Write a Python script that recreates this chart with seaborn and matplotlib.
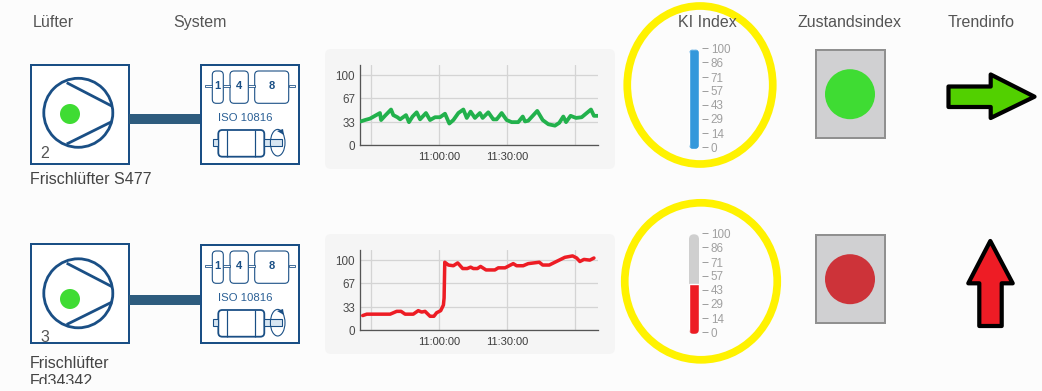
from matplotlib import pyplot as plt
from matplotlib.patches import Circle, Ellipse, FancyBboxPatch, Polygon, Rectangle
import seaborn as sns

W, H = 1042, 391
PX = 0.72  # one image pixel in points at dpi 100

headers = ['Lüfter', 'System', 'KI Index', 'Zustandsindex', 'Trendinfo']
y_ticks = [0, 33, 67, 100]
x_ticks = [-30, 0, 30, 60]  # minutes relative to 11:00
x_labels = ['', '11:00:00', '11:30:00', '']
gauge_ticks = [0, 14, 29, 43, 57, 71, 86, 100]

green_min = [-34.7, -32.8, -30.6, -28.4, -26.2, -25.7, -23.7, -21.3, -20.3, -18.5, -17.3, -14.7, -13.4, -11.8,
             -10, -8.5, -5.9, -4.1, -1.9, 0.3, 2.5, 4.4, 6.2, 8.4, 10.6, 12.1, 13.8, 15.7, 17.9, 19.1, 21.6,
             23.8, 25.3, 27.5, 29.7, 31.9, 34.8, 36.8, 37.8, 39.2, 43.2, 45.6, 48.1, 51, 52.9, 54.7, 55.9,
             57.9, 60.3, 62.8, 66.9, 68.2, 70.1]
green_val = [34, 36, 38, 42, 46, 36, 43, 51, 43, 40, 37, 43, 33, 41,
             47, 37, 46, 36, 40, 40, 45, 31, 36, 46, 51, 39, 48, 39, 46, 39, 47,
             37, 37, 46, 36, 33, 33, 41, 34, 35, 49, 36, 30, 28, 32, 41, 33,
             42, 39, 40, 51, 42, 42]

red_min = [-33.8, -32, -21.7, -18.8, -16.9, -15.1, -11.5, -9.3, -7.8, -6.3, -4.1, -2.4, -1.2, 0.6, 1.8, 2.1, 2.4,
           4, 6.2, 8.1, 10.3, 12.3, 13.8, 15, 16.8, 18.2, 20.6, 24.5, 26, 29, 32.6, 34.1, 37, 39.2, 44.1,
           45.6, 48.5, 51, 55.4, 58.8, 60.6, 62, 63.8, 66.4, 68.2]
red_val = [21, 23, 23, 27, 27, 23, 23, 28, 26, 27, 20, 20, 25, 28, 36, 46, 97,
           93, 92, 96, 88, 88, 90, 88, 88, 91, 86, 86, 89, 89, 95, 92, 92, 95, 97,
           93, 93, 97, 104, 106, 103, 98, 101, 100, 103]

gauge_top = 100
gauge_bottom = 50

sns.set_theme(style='white')
plt.rcParams['font.family'] = ['Liberation Sans', 'DejaVu Sans']

BG = '#fcfcfc'
BLUE = '#1a4f85'
fig = plt.figure(figsize=(W / 100, H / 100), dpi=100, facecolor=BG)

over = fig.add_axes([0, 0, 1, 1], zorder=0)
over.set_xlim(0, W)
over.set_ylim(H, 0)
over.axis('off')


def px_axes(x0, y0, x1, y1):
    ax = fig.add_axes([x0 / W, 1 - y1 / H, (x1 - x0) / W, (y1 - y0) / H], zorder=2)
    ax.patch.set_alpha(0)
    return ax


def rounded(x, y, w, h, r, **kw):
    p = FancyBboxPatch((x, y), w, h, boxstyle=f'round,pad=0,rounding_size={r}', **kw)
    over.add_patch(p)
    return p


def line(xs, ys, lw=1.5, color=BLUE, zorder=2):
    over.plot(xs, ys, color=color, lw=lw * PX, solid_capstyle='butt', zorder=zorder)


def draw_fan(top, dy, dot_dy, number, num_y):
    over.add_patch(Rectangle((30.7, top), 98.6, 98.5, fc='white', ec=BLUE, lw=2 * PX))
    cy = 112.8 + dy
    over.add_patch(Circle((78.3, cy), 34.5, fc='none', ec=BLUE, lw=2.8 * PX))
    line([66.7, 111.7], [82.7 + dy, 106 + dy], 2.8)
    line([66.7, 111.7], [144 + dy, 121.7 + dy], 2.8)
    over.add_patch(Circle((70, 114 + dot_dy), 10, fc='#3fdc33', ec='none'))
    over.text(40, num_y, number, fontsize=11.5, color='#555555', va='center')
    over.add_patch(Rectangle((129, 114 + dy), 72, 10, fc='#2e5c7e', ec='none'))


def draw_iso(top, dy):
    over.add_patch(Rectangle((200.7, top), 98.3, 98.5, fc='white', ec=BLUE, lw=2 * PX, zorder=3))
    for x, w, t in [(212.3, 11, '1'), (230, 18.3, '4'), (254.7, 34, '8')]:
        rounded(x, 71 + dy, w, 32.3, 4, fc='white', ec=BLUE, lw=1.1 * PX, zorder=4)
        over.text(x + w / 2 - (0.8 if t == '1' else 0), 86 + dy, t, fontsize=8, fontweight='bold',
                  color=BLUE, ha='center', va='center', zorder=5)
    for x0, x1 in [(205, 212.3), (223.3, 230), (248.3, 254.7), (288.7, 295)]:
        over.add_patch(Rectangle((x0, 85 + dy), x1 - x0, 2.4, fc='white', ec=BLUE, lw=0.8 * PX, zorder=4))
    over.text(245.3, 117.7 + dy, 'ISO 10816', fontsize=8.2, color='#2a5f95', ha='center', va='center', zorder=5)
    rounded(218.3, 130 + dy, 46, 26.7, 4, fc='white', ec=BLUE, lw=1.8 * PX, zorder=4)
    line([226.7, 226.7], [130 + dy, 156.7 + dy], 1.2, zorder=5)
    line([254.7, 254.7], [130 + dy, 156.7 + dy], 1.2, zorder=5)
    over.add_patch(Rectangle((212.7, 139.3 + dy), 5.6, 6.4, fc='#d8e6f2', ec=BLUE, lw=1.1 * PX, zorder=4))
    over.add_patch(Rectangle((264.3, 139.3 + dy), 17.4, 6.4, fc='#d8e6f2', ec=BLUE, lw=1.1 * PX, zorder=4))
    over.add_patch(Ellipse((277.7, 142.7 + dy), 14.6, 26.6, fc='none', ec=BLUE, lw=1.1 * PX, zorder=5))
    over.add_patch(Polygon([(277, 131 + dy), (283, 129 + dy), (284, 135 + dy)], fc=BLUE, ec='none', zorder=5))


def draw_chart(dy, minutes, values, color, width):
    rounded(325, 49 + dy, 290, 120, 6, fc='#f5f5f5', ec='none')
    ax = px_axes(360, 65.3 + dy, 598, 145.3 + dy)
    sns.lineplot(x=minutes, y=values, color=color, lw=width * PX, ax=ax, zorder=3,
                 estimator=None, sort=False)
    ax.set_xlim(-35, 70)
    ax.set_ylim(0, 114)
    ax.set_xticks(x_ticks, x_labels)
    ax.set_yticks(y_ticks)
    ax.grid(True, color='#d4d4d4', lw=1.3 * PX)
    ax.set_xlabel('')
    ax.set_ylabel('')
    ax.tick_params(length=0, labelsize=8.4, labelcolor='#4a4a4a')
    ax.tick_params(axis='x', pad=4.5, labelsize=8, labelcolor='#3c3c3c')
    ax.tick_params(axis='y', pad=3.5)
    for s in ['top', 'right']:
        ax.spines[s].set_visible(False)
    for s in ['left', 'bottom']:
        ax.spines[s].set_color('#555555')
        ax.spines[s].set_linewidth(1.3 * PX)


def draw_gauge(y0, value, fill, track):
    tube = rounded(689, y0, 10, 99.7, 5, fc=track, ec='none')
    ax = px_axes(689, y0, 699, y0 + 99.7)
    sns.barplot(x=[5], y=[value], native_scale=True, width=10, color=fill, saturation=1, ax=ax)
    ax.set_xlim(0, 10)
    ax.set_ylim(0, 100)
    ax.patches[0].set_clip_path(tube)
    ax.axis('off')
    # the scale sits a little above the tube, so it gets its own axes
    scale = px_axes(689, y0 - 1, 702, y0 + 98)
    scale.set_xticks([])
    scale.set_ylim(0, 100)
    scale.set_yticks(gauge_ticks)
    scale.yaxis.tick_right()
    scale.tick_params(axis='y', length=6 * PX, width=1 * PX, color='#a0a0a0', pad=2,
                      labelsize=8.4, labelcolor='#a0a0a0')
    sns.despine(ax=scale, left=True, right=True, top=True, bottom=True)


def draw_state(top, color):
    over.add_patch(Rectangle((815.5, top), 69, 88.5, fc='#d0d0d2', ec='#909090', lw=2 * PX))
    over.add_patch(Circle((850, top + 44.5), 25, fc=color, ec='none'))


for x, t in zip([33, 173, 678, 798, 948], headers):
    over.text(x, 26.7, t, fontsize=11.5, color='#555555', va='baseline', zorder=6)

over.add_patch(Ellipse((700, 85), 145.5, 158, fc='none', ec='#fff200', lw=7.7 * PX, zorder=1))
over.add_patch(Ellipse((701, 281.3), 152.5, 157, fc='none', ec='#fff200', lw=7.7 * PX, zorder=1))

draw_fan(65, 0, 0, '2', 153)
draw_fan(244, 180.5, 185, '3', 338)
draw_iso(65, 0)
draw_iso(244.5, 180)
over.text(30, 184, 'Frischlüfter S477', fontsize=11.5, color='#444444', va='baseline')
over.text(30, 368.3, 'Frischlüfter', fontsize=11.5, color='#444444', va='baseline')
cut = over.text(30, 386, 'Fd34342', fontsize=11.5, color='#444444', va='baseline')
cut.set_clip_on(True)
cut.set_clip_path(Rectangle((0, 340), W, 44, transform=over.transData))

draw_chart(0, green_min, green_val, '#22b14c', 3.8)
draw_chart(185, red_min, red_val, '#ed1c24', 3.5)

draw_gauge(49.3, gauge_top, '#3498db', '#3498db')
draw_gauge(234.3, gauge_bottom, '#ed1c24', '#cfcfcf')

draw_state(49.7, '#3fdc33')
draw_state(234.7, '#cd3339')

over.add_patch(Polygon([(948.5, 86.5), (990.7, 86.5), (990.7, 74.5), (1034.5, 96.7), (990.7, 118), (990.7, 107),
                        (948.5, 107)], fc='#52d000', ec='black', lw=4.2 * PX, joinstyle='round'))
over.add_patch(Polygon([(990.3, 241), (1012.7, 283.3), (1001.7, 283.3), (1001.7, 326), (979.3, 326), (979.3, 283.3),
                        (968.3, 283.3)], fc='#ee1c25', ec='black', lw=4.2 * PX, joinstyle='round'))

plt.savefig('out.png', dpi=100, facecolor=BG)
plt.close()
